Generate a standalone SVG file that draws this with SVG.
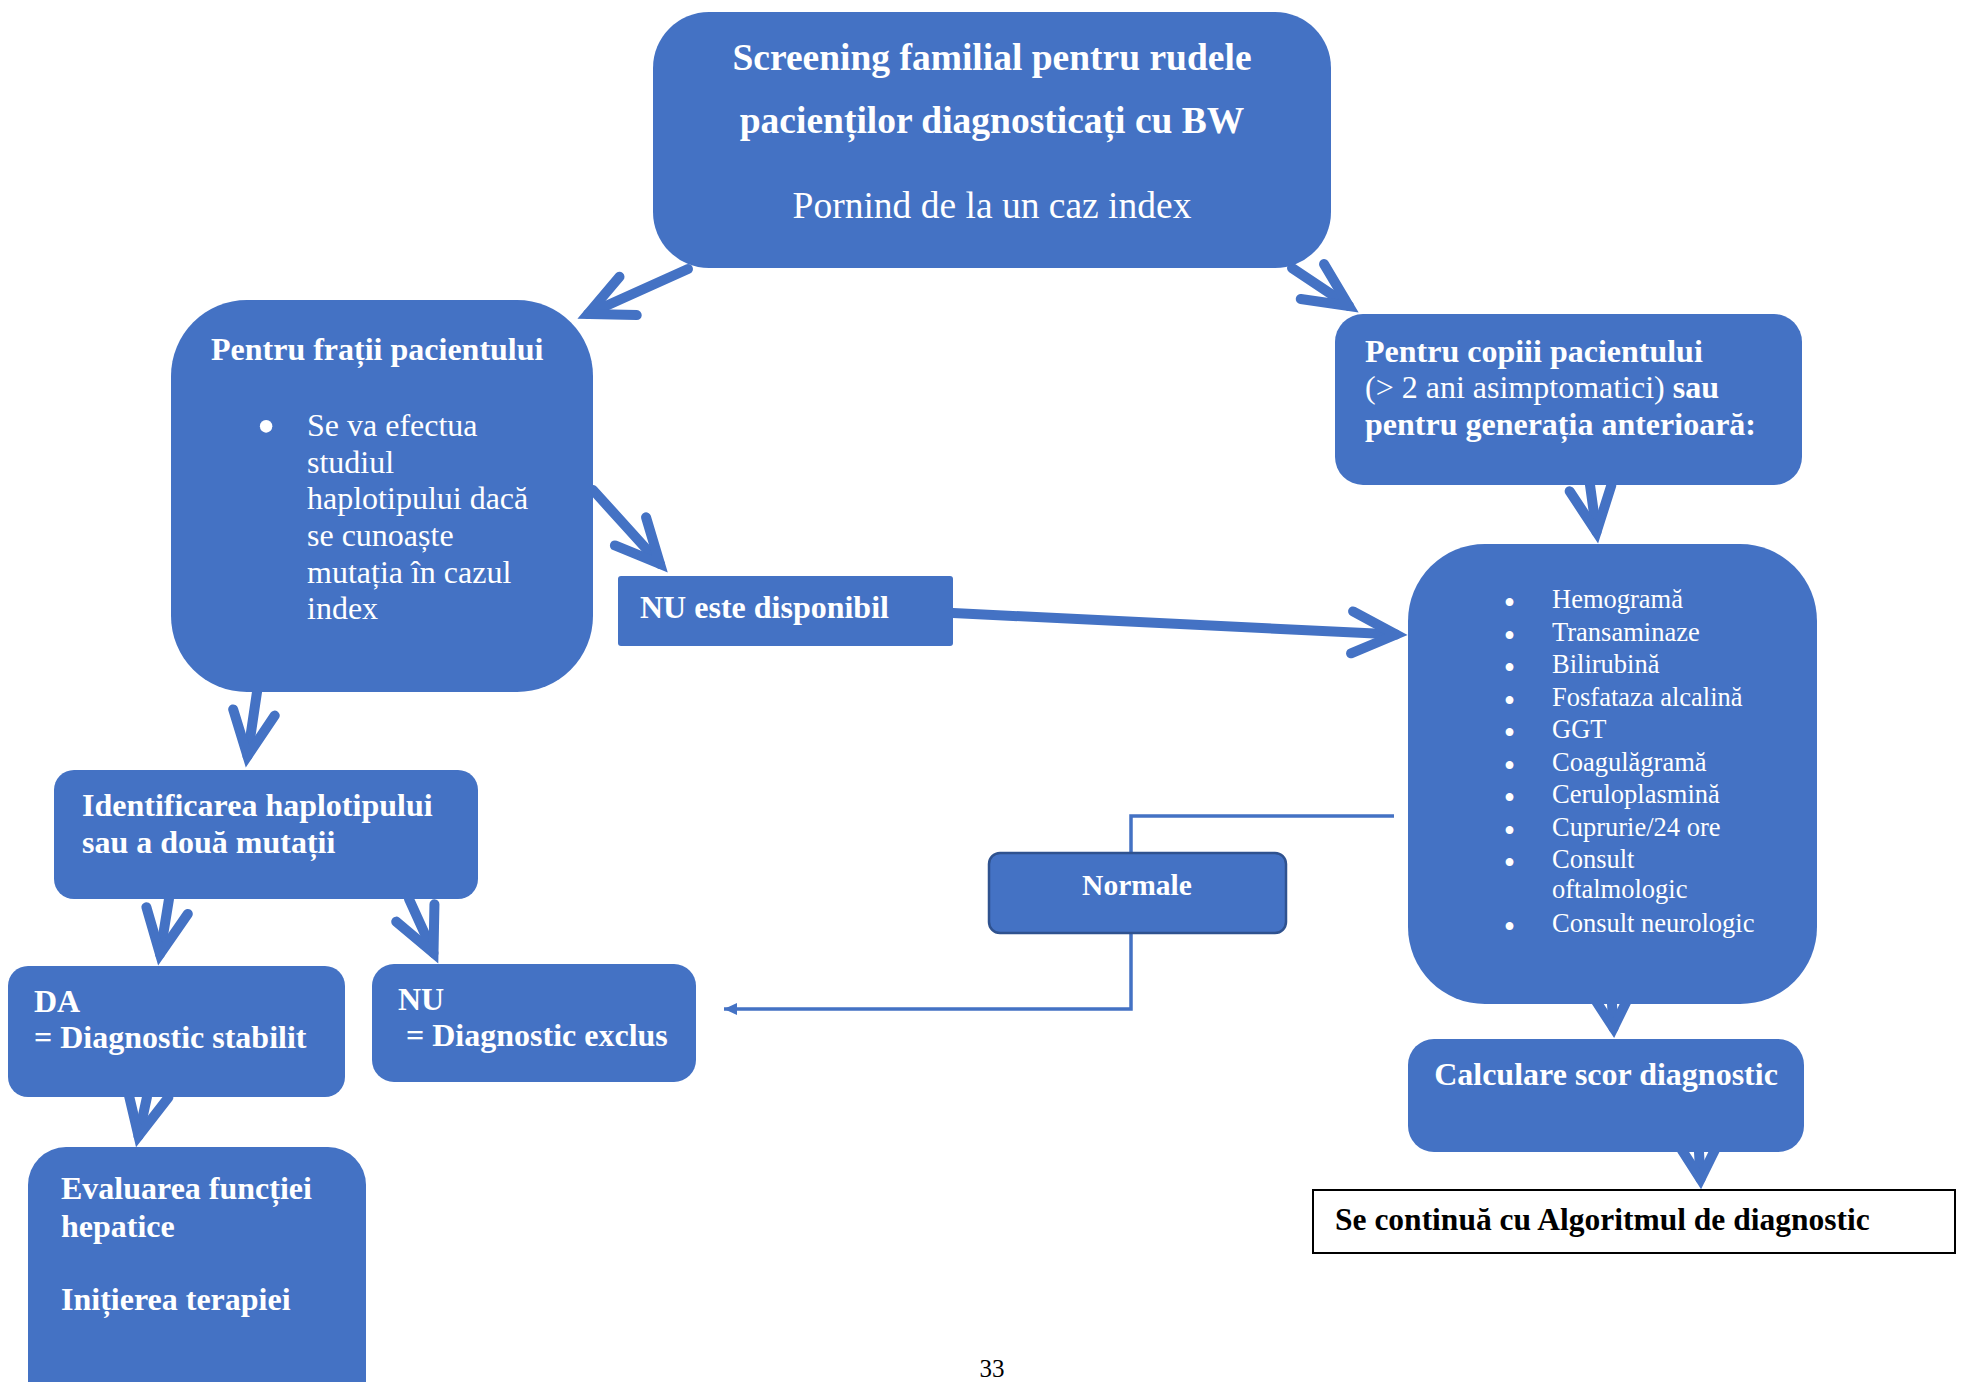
<svg xmlns="http://www.w3.org/2000/svg" width="1962" height="1382" viewBox="0 0 1962 1382">
<style>
.box{fill:#4472C4}
.t{font-family:"Liberation Serif","Times New Roman",serif;fill:#FFFFFF}
.b{font-weight:bold}
.s32{font-size:32px}
.s37{font-size:37.5px}
.s26{font-size:26.5px}
.bl{font-size:28.5px;font-weight:bold}
.bb{font-size:52px}
.thick{fill:none;stroke:#4472C4;stroke-width:10;stroke-linecap:round}
.thin{fill:none;stroke:#4472C4;stroke-width:3.5}
</style>
<defs>
<marker id="vh" markerUnits="userSpaceOnUse" viewBox="-60 -40 80 80" markerWidth="80" markerHeight="80" refX="0" refY="0" orient="auto" overflow="visible">
<path d="M-44,-21 L0,0 L-44,21" fill="none" stroke="#4472C4" stroke-width="10" stroke-linecap="round" stroke-linejoin="miter" stroke-miterlimit="10"/>
</marker>
<marker id="vs" markerUnits="userSpaceOnUse" viewBox="-50 -30 60 60" markerWidth="60" markerHeight="60" refX="0" refY="0" orient="auto" overflow="visible">
<path d="M-30,-17 L0,0 L-30,17" fill="none" stroke="#4472C4" stroke-width="10" stroke-linecap="round" stroke-linejoin="miter" stroke-miterlimit="10"/>
</marker>
<marker id="tri" markerUnits="userSpaceOnUse" viewBox="-14 -7 16 14" markerWidth="16" markerHeight="14" refX="0" refY="0" orient="auto" overflow="visible">
<path d="M-13,-6 L0,0 L-13,6 Z" fill="#4472C4"/>
</marker>
</defs>
<rect width="1962" height="1382" fill="#FFFFFF"/>

<g id="connectors">
<line class="thick" x1="688" y1="269" x2="588" y2="314" marker-end="url(#vh)"/>
<line class="thick" x1="1292" y1="268" x2="1349" y2="306" marker-end="url(#vh)"/>
<line class="thick" x1="593" y1="490" x2="660" y2="564" marker-end="url(#vh)"/>
<line class="thick" x1="953" y1="613" x2="1396" y2="634.5" marker-end="url(#vh)"/>
<line class="thick" x1="1590" y1="485" x2="1596.5" y2="532" marker-end="url(#vh)"/>
<line class="thick" x1="257" y1="692" x2="247.5" y2="756" marker-end="url(#vh)"/>
<line class="thick" x1="169" y1="899" x2="160" y2="954" marker-end="url(#vh)"/>
<line class="thick" x1="409" y1="899" x2="433.5" y2="953" marker-end="url(#vh)"/>
<line class="thick" x1="147" y1="1097" x2="138.5" y2="1136" marker-end="url(#vh)"/>
<line class="thick" x1="1612" y1="1004" x2="1613.5" y2="1028" marker-end="url(#vs)"/>
<line class="thick" x1="1699" y1="1152" x2="1700.5" y2="1179" marker-end="url(#vs)"/>
<polyline class="thin" points="1394,816 1131,816 1131,1009 724,1009" marker-end="url(#tri)"/>
</g>

<g id="node-top">
<rect class="box" x="653" y="12" width="678" height="256" rx="56"/>
<text class="t b s37" x="992" y="70" text-anchor="middle">Screening familial pentru rudele</text>
<text class="t b s37" x="992" y="133" text-anchor="middle">pacienților diagnosticați cu BW</text>
<text class="t s37" x="992" y="218" text-anchor="middle">Pornind de la un caz index</text>
</g>

<g id="node-frati">
<rect class="box" x="171" y="300" width="422" height="392" rx="76"/>
<text class="t b s32" x="211" y="360">Pentru frații pacientului</text>
<text class="t bb" x="257" y="444">•</text>
<text class="t s32" x="307" y="436">Se va efectua</text>
<text class="t s32" x="307" y="473">studiul</text>
<text class="t s32" x="307" y="509">haplotipului dacă</text>
<text class="t s32" x="307" y="546">se cunoaște</text>
<text class="t s32" x="307" y="583">mutația în cazul</text>
<text class="t s32" x="307" y="619">index</text>
</g>

<g id="node-nu-disponibil">
<rect class="box" x="618" y="576" width="335" height="70" rx="3"/>
<text class="t b s32" x="640" y="618">NU este disponibil</text>
</g>

<g id="node-copii">
<rect class="box" x="1335" y="314" width="467" height="171" rx="28"/>
<text class="t b s32" x="1365" y="362">Pentru copiii pacientului</text>
<text class="t s32" x="1365" y="398">(&gt; 2 ani asimptomatici) <tspan class="b">sau</tspan></text>
<text class="t b s32" x="1365" y="435">pentru generația anterioară:</text>
</g>

<g id="node-analize">
<rect class="box" x="1408" y="544" width="409" height="460" rx="77"/>
<g class="t">
<text class="bl" x="1504.5" y="612">•</text><text class="s26" x="1552" y="608">Hemogramă</text>
<text class="bl" x="1504.5" y="645">•</text><text class="s26" x="1552" y="641">Transaminaze</text>
<text class="bl" x="1504.5" y="677">•</text><text class="s26" x="1552" y="673">Bilirubină</text>
<text class="bl" x="1504.5" y="710">•</text><text class="s26" x="1552" y="706">Fosfataza alcalină</text>
<text class="bl" x="1504.5" y="742">•</text><text class="s26" x="1552" y="738">GGT</text>
<text class="bl" x="1504.5" y="775">•</text><text class="s26" x="1552" y="771">Coagulăgramă</text>
<text class="bl" x="1504.5" y="807">•</text><text class="s26" x="1552" y="803">Ceruloplasmină</text>
<text class="bl" x="1504.5" y="840">•</text><text class="s26" x="1552" y="836">Cuprurie/24 ore</text>
<text class="bl" x="1504.5" y="872">•</text><text class="s26" x="1552" y="868">Consult</text>
<text class="s26" x="1552" y="898">oftalmologic</text>
<text class="bl" x="1504.5" y="936">•</text><text class="s26" x="1552" y="932">Consult neurologic</text>
</g>
</g>

<g id="node-normale">
<rect class="box" x="989" y="853" width="297" height="80" rx="11" stroke="#2F528F" stroke-width="2.5"/>
<text class="t b" font-size="29.5" x="1137" y="895" text-anchor="middle">Normale</text>
</g>

<g id="node-identificare">
<rect class="box" x="54" y="770" width="424" height="129" rx="20"/>
<text class="t b s32" x="82" y="816">Identificarea haplotipului</text>
<text class="t b s32" x="82" y="853">sau a două mutații</text>
</g>

<g id="node-da">
<rect class="box" x="8" y="966" width="337" height="131" rx="20"/>
<text class="t b s32" x="34" y="1012">DA</text>
<text class="t b s32" x="34" y="1048">= Diagnostic stabilit</text>
</g>

<g id="node-nu">
<rect class="box" x="372" y="964" width="324" height="118" rx="22"/>
<text class="t b s32" x="398" y="1010">NU</text>
<text class="t b s32" x="406" y="1046">= Diagnostic exclus</text>
</g>

<g id="node-evaluare">
<rect class="box" x="28" y="1147" width="338" height="280" rx="38"/>
<text class="t b s32" x="61" y="1199">Evaluarea funcției</text>
<text class="t b s32" x="61" y="1237">hepatice</text>
<text class="t b s32" x="61" y="1310">Inițierea terapiei</text>
</g>

<g id="node-calculare">
<rect class="box" x="1408" y="1039" width="396" height="113" rx="26"/>
<text class="t b s32" x="1606" y="1085" text-anchor="middle">Calculare scor diagnostic</text>
</g>

<g id="node-algoritm">
<rect x="1313" y="1190" width="642" height="63" fill="#FFFFFF" stroke="#000000" stroke-width="2"/>
<text class="b" font-family="Liberation Serif, Times New Roman, serif" font-size="31.5" fill="#000000" x="1335" y="1230">Se continuă cu Algoritmul de diagnostic</text>
</g>

<text font-family="Liberation Serif, Times New Roman, serif" font-size="25" fill="#000000" x="992" y="1377" text-anchor="middle">33</text>
</svg>
